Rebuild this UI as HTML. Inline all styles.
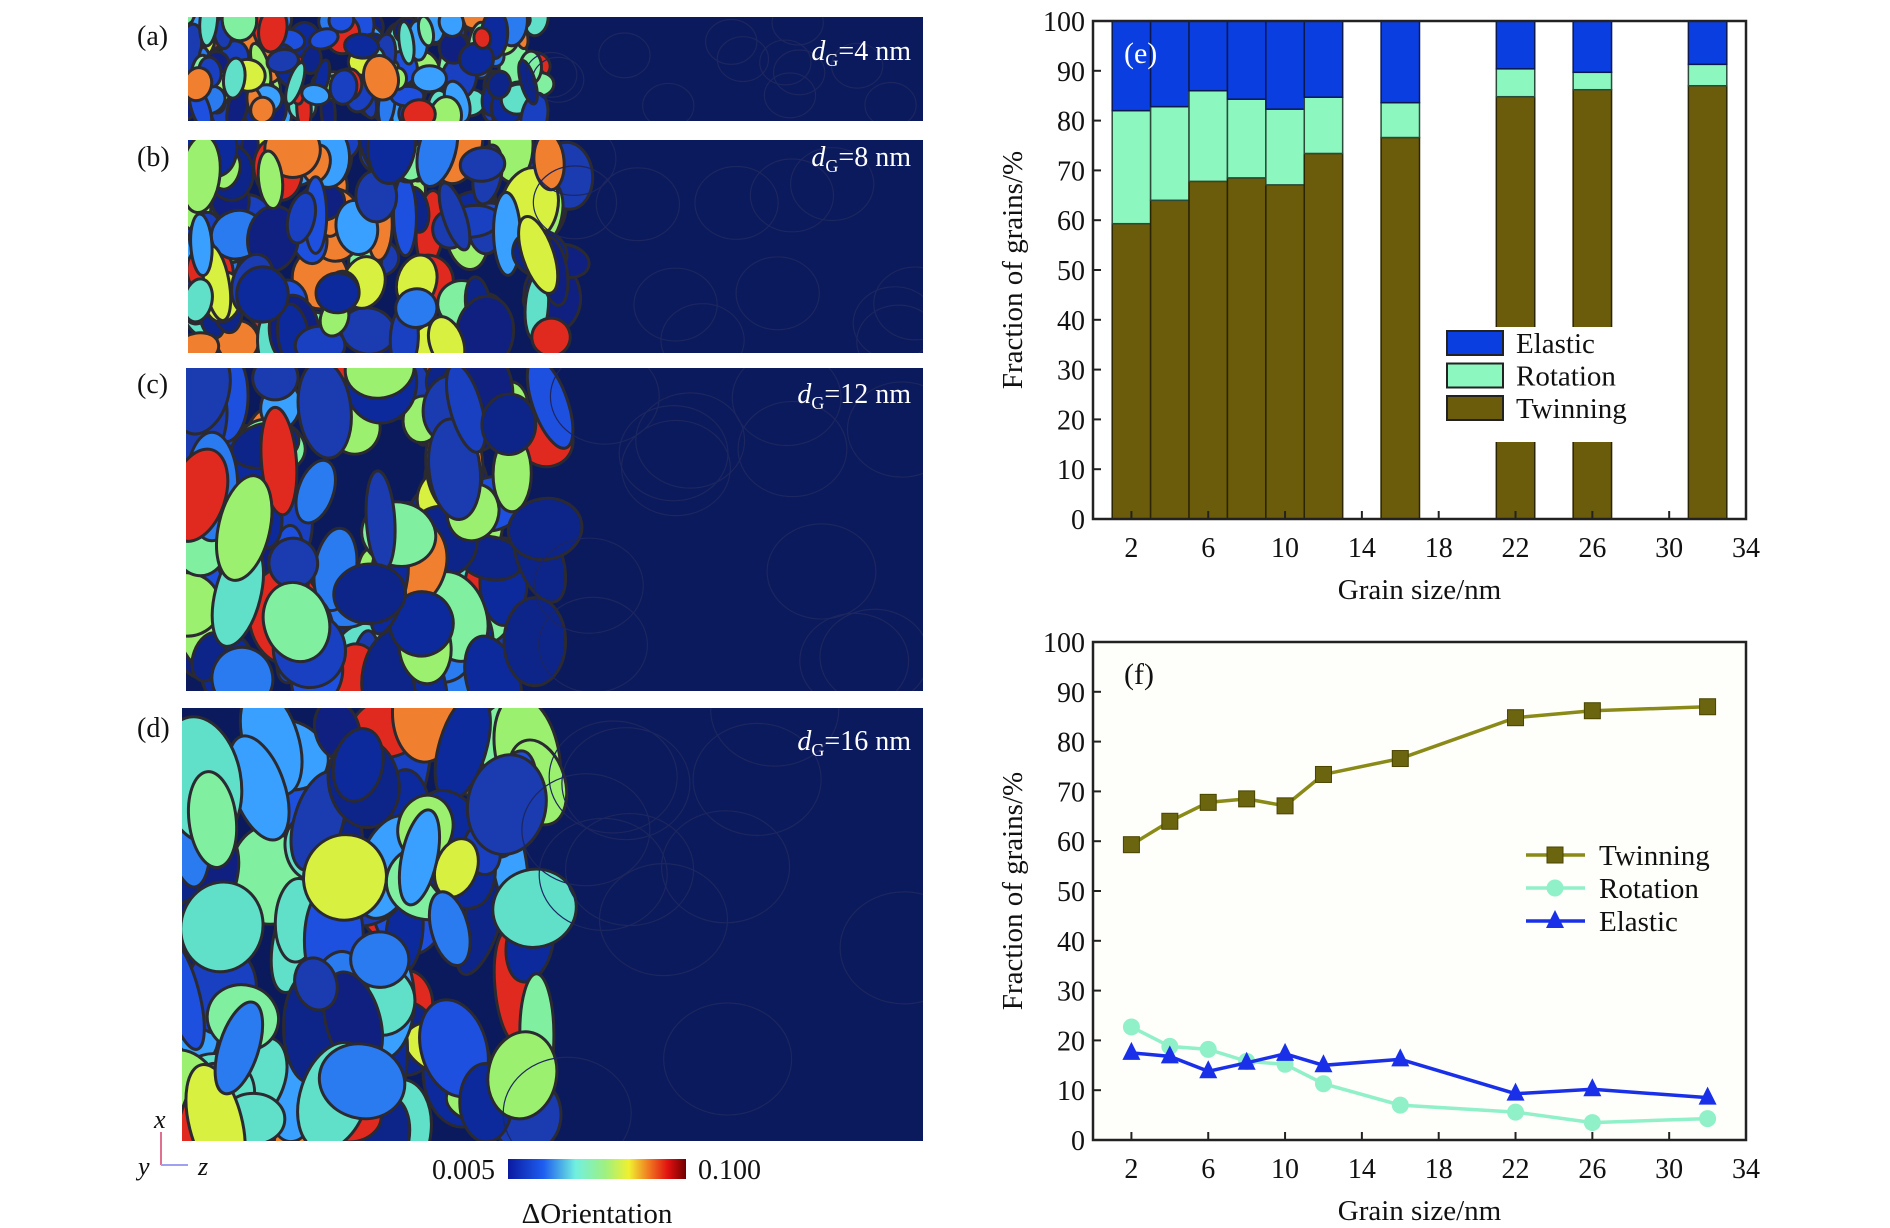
<!DOCTYPE html>
<html><head><meta charset="utf-8"><style>
html,body{margin:0;padding:0;background:#fff;}
svg{display:block;font-family:"Liberation Serif",serif;}
</style></head><body>
<svg id="fig" width="1890" height="1228" viewBox="0 0 1890 1228" xmlns="http://www.w3.org/2000/svg">
<defs>
<linearGradient id="cbar" x1="0" x2="1" y1="0" y2="0">
<stop offset="0" stop-color="#0a1aa0"/><stop offset="0.2" stop-color="#1e5ef0"/><stop offset="0.38" stop-color="#70f0e0"/><stop offset="0.55" stop-color="#a0f080"/><stop offset="0.68" stop-color="#f0f030"/><stop offset="0.8" stop-color="#f07020"/><stop offset="0.9" stop-color="#e01010"/><stop offset="1" stop-color="#700000"/>
</linearGradient>
</defs>
<g id="maps"></g>
<g id="barchart"></g>
<g id="linechart"></g>
</svg>
<script>
// ---- chart data ----
const grainSizes = [2, 4, 6, 8, 10, 12, 16, 22, 26, 32];
const twinning = [59.3, 64.0, 67.8, 68.5, 67.1, 73.4, 76.6, 84.8, 86.2, 87.0];
const rotation = [22.7, 18.8, 18.2, 15.8, 15.2, 11.3, 7.0, 5.6, 3.5, 4.3];
const elastic = [17.5, 16.8, 13.8, 15.5, 17.3, 15.0, 16.2, 9.3, 10.2, 8.5];
const xTicks = [2, 6, 10, 14, 18, 22, 26, 30, 34];
const yTicks = [0, 10, 20, 30, 40, 50, 60, 70, 80, 90, 100];

const NS = "http://www.w3.org/2000/svg";
function mk(parent, tag, attrs, text) {
  const e = document.createElementNS(NS, tag);
  for (const k in attrs) e.setAttribute(k, attrs[k]);
  if (text !== undefined) e.textContent = text;
  parent.appendChild(e);
  return e;
}
const L = 1093, R = 1746;
const xs = v => L + (v / 34) * (R - L);
function ysFor(top, bot) { return v => bot - (v / 100) * (bot - top); }

function axes(g, top, bot) {
  const ys = ysFor(top, bot);
  for (const t of xTicks) {
    const tk = mk(g, "line", {x1: xs(t), x2: xs(t), y1: bot, y2: bot - 8, stroke: "#222", "stroke-width": 2});
    
    
    const tl = mk(g, "text", {x: xs(t), y: bot + 38, "font-size": 28, "text-anchor": "middle", fill: "#111"}, String(t));
    
    
  }
  for (const t of yTicks) {
    const tk = mk(g, "line", {x1: L, x2: L + 8, y1: ys(t), y2: ys(t), stroke: "#222", "stroke-width": 2});
    
    
    const tl = mk(g, "text", {x: L - 8, y: ys(t) + 10, "font-size": 28, "text-anchor": "end", fill: "#111"}, String(t));
    
    
  }
  const fr = mk(g, "rect", {x: L, y: top, width: R - L, height: bot - top, fill: "none", stroke: "#222", "stroke-width": 2.5});
  
  
  const xt = mk(g, "text", {x: (L + R) / 2, y: bot + 80, "font-size": 29, "text-anchor": "middle", fill: "#111"}, "Grain size/nm");
  
  
  const cy = (top + bot) / 2;
  const yt = mk(g, "text", {x: 1022, y: cy, "font-size": 29, "text-anchor": "middle", fill: "#111", transform: `rotate(-90 1022 ${cy})`}, "Fraction of grains/%");
  
  
}

// ---- bar chart (e) ----
(function () {
  const g = document.getElementById("barchart");
  const top = 21, bot = 519, ys = ysFor(top, bot);
  const bw = xs(2) - xs(0);
  grainSizes.forEach((s, i) => {
    const x0 = xs(s - 1);
    const t = twinning[i], r = rotation[i];
    const b1 = mk(g, "rect", {x: x0, y: ys(t), width: bw, height: ys(0) - ys(t), fill: "#6b5c0b", stroke: "#2a2400", "stroke-width": 1.5});
    
    
    const b2 = mk(g, "rect", {x: x0, y: ys(t + r), width: bw, height: ys(t) - ys(t + r), fill: "#8cf7bf", stroke: "#2a4a3a", "stroke-width": 1.5});
    
    
    const b3 = mk(g, "rect", {x: x0, y: ys(100), width: bw, height: ys(t + r) - ys(100), fill: "#0a3ee0", stroke: "#0a1a50", "stroke-width": 1.5});
    
    
  });
  axes(g, top, bot);
  const pl = mk(g, "text", {x: 1124, y: 63, "font-size": 30, fill: "#fff"}, "(e)");
  
  
  const lg = mk(g, "g", {});
  
  
  mk(lg, "rect", {x: 1430, y: 327, width: 233, height: 115, fill: "#fff"});
  const items = [["Elastic", "#0a3ee0"], ["Rotation", "#8cf7bf"], ["Twinning", "#6b5c0b"]];
  items.forEach((it, i) => {
    const cy = 343 + i * 32.5;
    const sw = mk(lg, "rect", {x: 1447, y: cy - 12, width: 56, height: 24, fill: it[1], stroke: "#222", "stroke-width": 2});
    
    
    const tx = mk(lg, "text", {x: 1516, y: cy + 10, "font-size": 29, fill: "#111"}, it[0]);
    
    
  });
})();

// ---- line chart (f) ----
(function () {
  const g = document.getElementById("linechart");
  const top = 642, bot = 1140, ys = ysFor(top, bot);
  mk(g, "rect", {x: L, y: top, width: R - L, height: bot - top, fill: "#fefefb"});
  const series = [
    {name: "Twinning", vals: twinning, line: "#8a8a18", mark: "#6b6510", shape: "sq"},
    {name: "Rotation", vals: rotation, line: "#90f0c8", mark: "#90f0c8", shape: "ci"},
    {name: "Elastic", vals: elastic, line: "#1a30e8", mark: "#1a30e8", shape: "tr"}
  ];
  function marker(parent, shape, x, y, col) {
    let m;
    if (shape === "sq") m = mk(parent, "rect", {x: x - 8, y: y - 8, width: 16, height: 16, fill: col, stroke: "#4a4500", "stroke-width": 1});
    else if (shape === "ci") m = mk(parent, "circle", {cx: x, cy: y, r: 8.5, fill: col});
    else m = mk(parent, "polygon", {points: `${x},${y - 11} ${x - 9},${y + 7} ${x + 9},${y + 7}`, fill: col});
    return m;
  }
  [series[1], series[2], series[0]].forEach(s => {
    const pts = grainSizes.map((v, i) => `${xs(v)},${ys(s.vals[i])}`).join(" ");
    const pl = mk(g, "polyline", {points: pts, fill: "none", stroke: s.line, "stroke-width": 3.5});
    
    
    grainSizes.forEach((v, i) => {
      const m = marker(g, s.shape, xs(v), ys(s.vals[i]), s.mark);
      
      
    });
  });
  axes(g, top, bot);
  const pl = mk(g, "text", {x: 1124, y: 684, "font-size": 30, fill: "#111"}, "(f)");
  
  
  const lg = mk(g, "g", {});
  
  
  series.forEach((s, i) => {
    const cy = 855 + i * 33;
    mk(lg, "line", {x1: 1526, x2: 1585, y1: cy, y2: cy, stroke: s.line, "stroke-width": 3.5});
    marker(lg, s.shape, 1555, cy, s.mark);
    const tx = mk(lg, "text", {x: 1599, y: cy + 10, "font-size": 29, fill: "#111"}, s.name);
    
    
  });
})();

// ---- orientation maps (decorative texture) ----
(function () {
  const g = document.getElementById("maps");
  const panels = [
    {x: 188, y: 17, w: 735, h: 104, cw: 360, lab: "(a)", ly: 45, d: "4", dy: 60, gs: 16},
    {x: 188, y: 140, w: 735, h: 213, cw: 380, lab: "(b)", ly: 166, d: "8", dy: 166, gs: 26},
    {x: 186, y: 368, w: 737, h: 323, cw: 370, lab: "(c)", ly: 393, d: "12", dy: 403, gs: 34},
    {x: 182, y: 708, w: 741, h: 433, cw: 365, lab: "(d)", ly: 737, d: "16", dy: 750, gs: 40}
  ];
  const cols = ["#1e50e0", "#2a7af0", "#60e0c8", "#9cf070", "#d8f040", "#f08030", "#e02a20", "#0c2a9c", "#3aa0ff", "#102080", "#1840c0", "#80f0a0", "#1a3cb0", "#0d2488"];
  let seed = 12345;
  const rnd = () => { seed = (seed * 1103515245 + 12345) % 2147483648; return seed / 2147483648; };
  panels.forEach((p, pi) => {
    const pg = mk(g, "g", {});
    
    
    const cid = "clip" + pi;
    const cp = mk(pg, "clipPath", {id: cid});
    mk(cp, "rect", {x: p.x, y: p.y, width: p.w, height: p.h});
    mk(pg, "rect", {x: p.x, y: p.y, width: p.w, height: p.h, fill: "#0b1a5c"});
    const inner = mk(pg, "g", {"clip-path": `url(#${cid})`});
    const n = Math.round((p.cw * p.h) / (p.gs * p.gs) * 1.1);
    for (let i = 0; i < n; i++) {
      const fx = Math.pow(rnd(), 1.3);
      const cx = p.x + fx * p.cw;
      const cy = p.y + rnd() * p.h;
      const rx = p.gs * (0.4 + rnd() * 0.7);
      const ry = p.gs * (0.6 + rnd() * 1.0);
      const c = cols[Math.floor(rnd() * cols.length)];
      mk(inner, "ellipse", {cx, cy, rx, ry, fill: c, stroke: "#2a2a30", "stroke-width": 3, transform: `rotate(${(rnd() - 0.5) * 40} ${cx} ${cy})`});
    }
    for (let i = 0; i < 12; i++) {
      const cx = p.x + p.cw + rnd() * (p.w - p.cw);
      const cy = p.y + rnd() * p.h;
      mk(inner, "ellipse", {cx, cy, rx: p.gs * 1.6, ry: p.gs * 1.4, fill: "none", stroke: "#1c2660", "stroke-width": 1.2});
    }
    const lb = mk(g, "text", {x: 137, y: p.ly, "font-size": 28, fill: "#111"}, p.lab);
    
    
    const dl = mk(g, "text", {x: 911, y: p.dy, "font-size": 28, fill: "#fff", "text-anchor": "end"});
    
    
    mk(dl, "tspan", {"font-style": "italic"}, "d");
    mk(dl, "tspan", {"font-size": 18, dy: 6}, "G");
    mk(dl, "tspan", {dy: -6}, "=" + p.d + " nm");
  });
  const cb = mk(g, "rect", {x: 508, y: 1159, width: 178, height: 20, fill: "url(#cbar)"});
  
  
  const t1 = mk(g, "text", {x: 495, y: 1179, "font-size": 28, "text-anchor": "end", fill: "#111"}, "0.005");
  
  
  const t2 = mk(g, "text", {x: 698, y: 1179, "font-size": 28, fill: "#111"}, "0.100");
  
  
  const t3 = mk(g, "text", {x: 597, y: 1223, "font-size": 29, "text-anchor": "middle", fill: "#111"}, "ΔOrientation");
  
  
  const ax = mk(g, "g", {});
  
  
  mk(ax, "line", {x1: 161, y1: 1165, x2: 161, y2: 1132, stroke: "#e07090", "stroke-width": 2});
  mk(ax, "line", {x1: 161, y1: 1165, x2: 188, y2: 1165, stroke: "#a0a0f0", "stroke-width": 2});
  mk(ax, "text", {x: 154, y: 1128, "font-size": 26, "font-style": "italic", fill: "#111"}, "x");
  mk(ax, "text", {x: 138, y: 1175, "font-size": 26, "font-style": "italic", fill: "#111"}, "y");
  mk(ax, "text", {x: 198, y: 1175, "font-size": 26, "font-style": "italic", fill: "#111"}, "z");
})();
</script>
</body></html>
